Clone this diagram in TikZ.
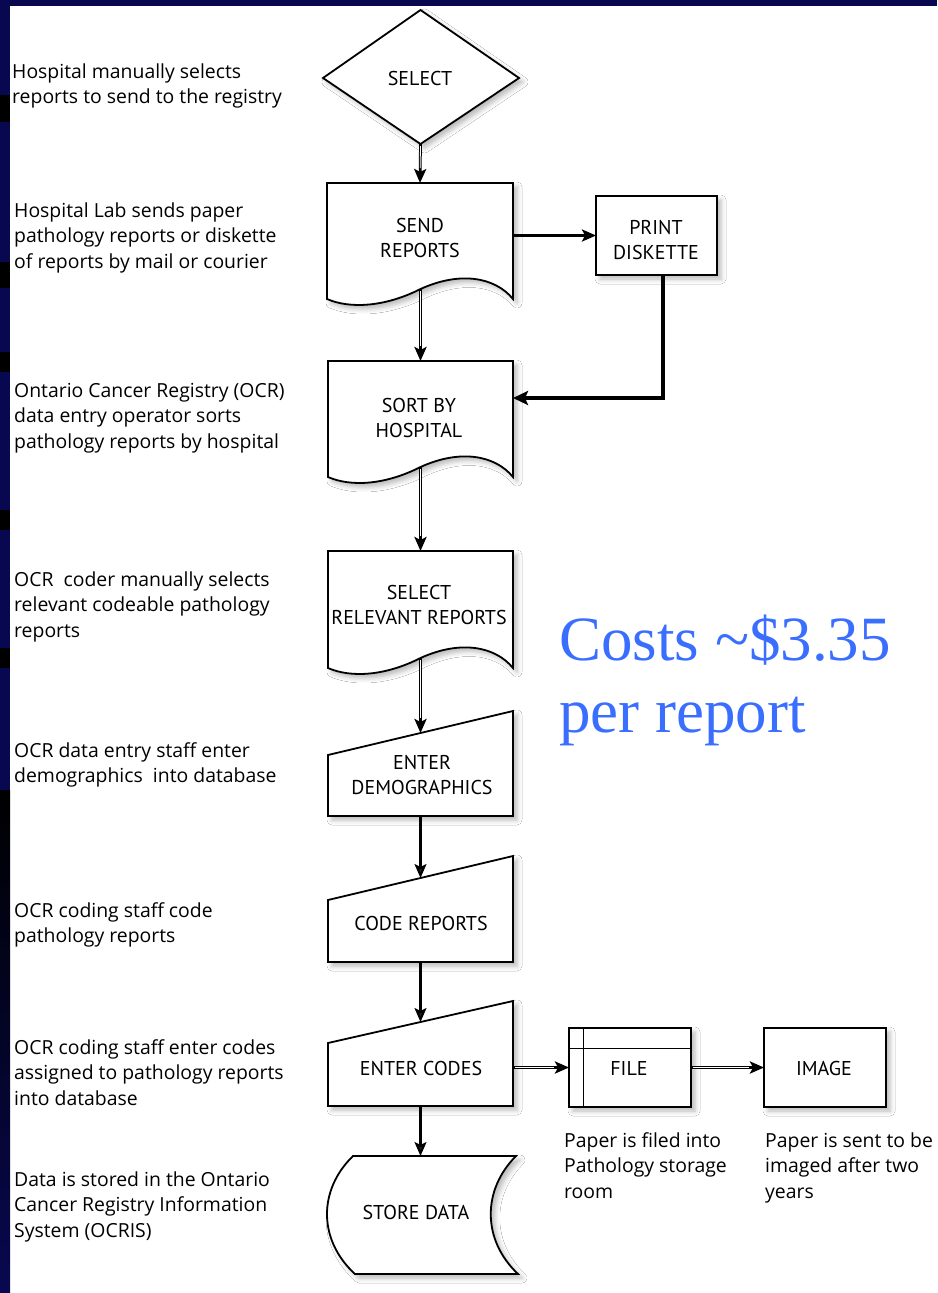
\documentclass[tikz,border=0pt]{standalone}
\usepackage{fontspec}
\setmainfont{Open Sans}
\newfontfamily\labelfont{PT Sans}
\newfontfamily\costfont{Liberation Serif}
\usetikzlibrary{arrows.meta,shadows.blur}
\definecolor{navy}{RGB}{8,8,80}
\definecolor{costblue}{RGB}{58,110,255}
\newcommand\docshape[4]{\draw[shp] (#1,#3) -- (#2,#3) -- (#2,#4) .. controls (#2-18,#4-22) and (#2-53,#4-28) .. (420.5,#4-10) .. controls (385,#4+8) and (#1+23,#4+10) .. (#1,#4) -- cycle;}
\newcommand\manshape[3]{\draw[shp] (328,#1) -- (513,#2) -- (513,#3) -- (328,#3) -- cycle;}
\newcommand\dblarrow[2]{\draw[arrd] (#1) -- (#2); \draw[dblmid] (#1) -- (#2);}
\begin{document}
\begin{tikzpicture}[x=1pt,y=-1pt,
  shp/.style={draw=black, line width=1.8pt, fill=white, line join=miter,
    blur shadow={shadow xshift=4pt, shadow yshift=-4pt, shadow blur radius=5pt, shadow opacity=28}},
  hold/.style={inner sep=0pt, outer sep=0pt, draw=none},
  rectbox/.style={shp, inner sep=0pt, outer sep=0pt},
  lbl/.style={font=\labelfont\fontsize{20}{25}\selectfont, align=center, inner sep=0pt},
  desc/.style={font=\fontsize{19.4}{25.7}\selectfont, align=left, anchor=base west, inner sep=0pt},
  arr/.style={line width=2.2pt, -{Stealth[length=14pt,width=12pt,inset=3pt]}},
  arrd/.style={line width=2.8pt, -{Stealth[length=14pt,width=12pt,inset=3pt]}},
  arrthick/.style={line width=3.6pt, -{Stealth[length=15pt,width=14pt,inset=3pt]}},
  dblmid/.style={white, line width=0.8pt, shorten >=15pt, shorten <=2pt},
]
\useasboundingbox (0,0) rectangle (937,1293);
% slide background
\fill[navy] (0,0) rectangle (937,1293);
\fill[white] (10,6) rectangle (937,1293);
\fill[black] (0,95) rectangle (10,122);
\fill[black] (0,262) rectangle (10,288);
\fill[black] (0,352) rectangle (10,372);
\fill[black] (0,510) rectangle (10,530);
\fill[black] (0,648) rectangle (10,668);
\shade[top color=black, bottom color=navy] (0,790) rectangle (10,1293);

% shapes
\draw[shp] (420.5,10) -- (519,78) -- (420.5,144) -- (323,78) -- cycle;
\docshape{327}{513}{183}{299}
\docshape{328}{513}{361}{477}
\docshape{328}{513}{551}{668}
\manshape{755}{711}{816}
\manshape{900}{856}{962}
\manshape{1043}{1001}{1106}
\draw[shp] (353,1156) -- (516,1156) .. controls (482,1190) and (482,1240) .. (518,1274) -- (355,1274) .. controls (318,1240) and (318,1190) .. (353,1156) -- cycle;

% holder nodes
\node[hold, minimum width=196pt, minimum height=134pt] (select) at (420.5,77) {};
\node[hold, minimum width=186pt, minimum height=116pt] (send) at (420,241) {};
\node[hold, minimum width=185pt, minimum height=116pt] (sort) at (420.5,419) {};
\node[hold, minimum width=185pt, minimum height=117pt] (selrel) at (420.5,609.5) {};
\node[hold, minimum width=185pt, minimum height=105pt] (demog) at (420.5,763.5) {};
\node[hold, minimum width=185pt, minimum height=106pt] (code) at (420.5,909) {};
\node[hold, minimum width=185pt, minimum height=105pt] (enter) at (420.5,1053.5) {};
\node[hold, minimum width=192pt, minimum height=118pt] (store) at (422,1215) {};
\node[rectbox, minimum width=121pt, minimum height=79pt] (print) at (656.5,235.5) {};
\node[rectbox, minimum width=122pt, minimum height=79pt] (file) at (630,1067.5) {};
\node[rectbox, minimum width=122pt, minimum height=79pt] (image) at (825,1067.5) {};
\draw[line width=0.9pt] ([xshift=14pt]file.north west) -- ([xshift=14pt]file.south west);
\draw[line width=0.9pt] ([yshift=-20pt]file.north west) -- ([yshift=-20pt]file.north east);

\coordinate (sendw) at (420.5,289);
\coordinate (sortw) at (420.5,467);
\coordinate (selrelw) at (420.5,658);
\coordinate (demogtip) at (420.5,733);
\coordinate (codetip) at (420.5,878);
\coordinate (entertip) at (420.5,1022);

% labels
\node[lbl] (selectt) at (420,78) {SELECT};
\node[lbl] (sendt) at (420,237.5) {SEND\\REPORTS};
\node[lbl] (printt) at (656,240) {PRINT\\DISKETTE};
\node[lbl] (sortt) at (419,417.5) {SORT BY\\HOSPITAL};
\node[lbl] (selrelt) at (419,604.5) {SELECT\\RELEVANT REPORTS};
\node[lbl] (demogt) at (422,775) {ENTER\\DEMOGRAPHICS};
\node[lbl] (codet) at (421,923) {CODE REPORTS};
\node[lbl] (entert) at (421,1068) {ENTER CODES};
\node[lbl] (filet) at (629,1068) {FILE};
\node[lbl] (imaget) at (824,1068) {IMAGE};
\node[lbl] (storet) at (416,1212) {STORE DATA};

% connectors
\dblarrow{select.south}{send.north}
\draw[arr, line width=2.6pt] (send.east |- print.west) -- (print.west);
\draw[arrthick] ([xshift=6.5pt]print.south) |- ([yshift=21pt]sort.east);
\dblarrow{sendw}{sort.north}
\dblarrow{sortw}{selrel.north}
\dblarrow{selrelw}{demogtip}
\draw[arr] (demog.south) -- (codetip);
\draw[arr] (code.south) -- (entertip);
\draw[arr] (enter.south) -- (enter.south |- store.north);
\dblarrow{enter.east |- file.west}{file.west}
\dblarrow{file.east}{image.west}

% descriptions (anchored at the baseline of the last line)
\node[desc] (d1) at (12,103.7) {Hospital manually selects\\reports to send to the registry};
\node[desc] (d2) at (14,268.4) {Hospital Lab sends paper\\pathology reports or diskette\\of reports by mail or courier};
\node[desc] (d3) at (14,448.4) {Ontario Cancer Registry (OCR)\\data entry operator sorts\\pathology reports by hospital};
\node[desc] (d4) at (14,637.4) {OCR\ \ coder manually selects\\relevant codeable pathology\\reports};
\node[desc] (d5) at (14,782.7) {OCR data entry staff enter\\demographics\ \ into database};
\node[desc] (d6) at (14,942.7) {OCR coding staff code\\pathology reports};
\node[desc] (d7) at (14,1105.4) {OCR coding staff enter codes\\assigned to pathology reports\\into database};
\node[desc] (d8) at (14,1237.4) {Data is stored in the Ontario\\Cancer Registry Information\\System (OCRIS)};
\node[desc] (fcap) at (564,1198.4) {Paper is filed into\\Pathology storage\\room};
\node[desc] (icap) at (765,1198.4) {Paper is sent to be\\imaged after two\\years};

% cost note
\node[font=\costfont\fontsize{63}{72}\selectfont, text=costblue, anchor=base west, align=left, inner sep=0pt] (cost) at (559,732) {Costs \textasciitilde\$3.35\\per report};
\end{tikzpicture}
\end{document}
